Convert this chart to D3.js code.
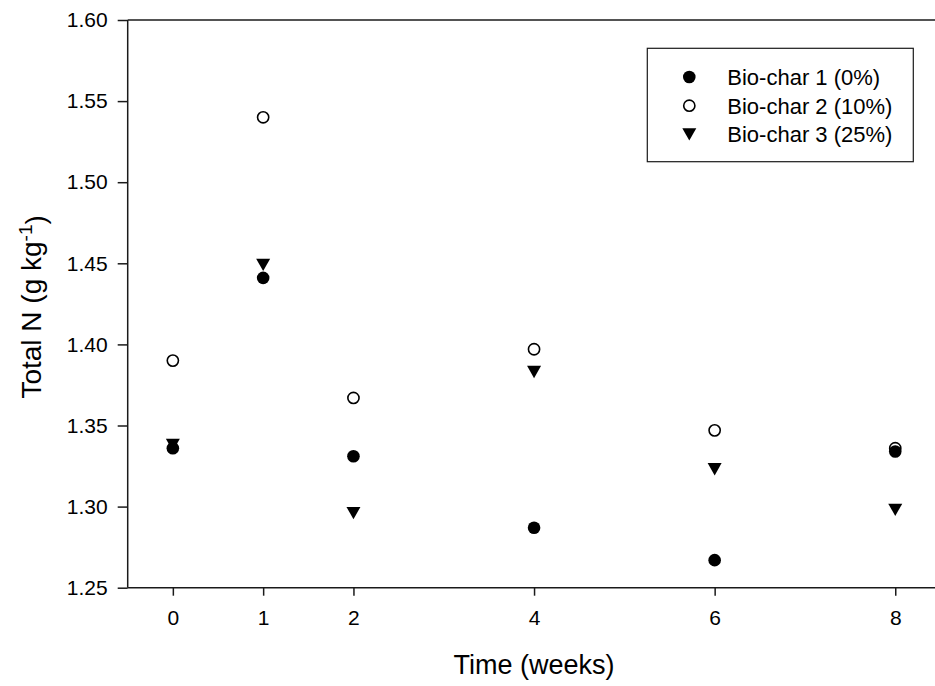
<!DOCTYPE html>
<html>
<head>
<meta charset="utf-8">
<script src="https://cdn.jsdelivr.net/npm/d3@7"></script>
<style>
  html, body { margin: 0; padding: 0; background: #fff; }
  svg { display: block; font-family: "Liberation Sans", Arial, sans-serif; }
</style>
</head>
<body>
<svg id="chart" width="935" height="686"></svg>
<script>
// Sampling times (weeks) and total nitrogen per treatment
const weeks = [0, 1, 2, 4, 6, 8];
const biochar1 = [1.336, 1.441, 1.331, 1.287, 1.267, 1.334];
const biochar2 = [1.390, 1.540, 1.367, 1.397, 1.347, 1.336];
const biochar3 = [1.338, 1.449, 1.296, 1.383, 1.323, 1.298];
const seriesNames = ["Bio-char 1 (0%)", "Bio-char 2 (10%)", "Bio-char 3 (25%)"];
const xTicks = [0, 1, 2, 4, 6, 8];
const yTicks = [1.25, 1.30, 1.35, 1.40, 1.45, 1.50, 1.55, 1.60];

const svg = d3.select("#chart");
const plotL = 127.7, plotT = 20, plotB = 587.7, plotR = 940.4;

const x = d3.scaleLinear().domain([-0.5, 8.5]).range([plotL, plotR]);
const y = d3.scaleLinear().domain([1.25, 1.60]).range([plotB, plotT]);

const ink = "#1a1a1a";

// Frame: top edge
svg.append("line")
  .attr("x1", plotL).attr("x2", plotR)
  .attr("y1", plotT).attr("y2", plotT)
  .attr("stroke", ink).attr("stroke-width", 1.5);

// Y axis
const yAxis = svg.append("g")
  .attr("transform", `translate(${plotL},0)`)
  .call(d3.axisLeft(y).tickValues(yTicks).tickFormat(d3.format(".2f")).tickSize(10).tickPadding(10));
// X axis
const xAxis = svg.append("g")
  .attr("transform", `translate(0,${plotB})`)
  .call(d3.axisBottom(x).tickValues(xTicks).tickFormat(d3.format("d")).tickSize(8).tickPadding(14));

[yAxis, xAxis].forEach(g => {
  g.select(".domain").attr("stroke", ink).attr("stroke-width", 1.5);
  g.selectAll(".tick line").attr("stroke", ink).attr("stroke-width", 1.5);
  g.selectAll(".tick text")
    .attr("fill", "#000")
    .style("font-size", "21px")
    .style("font-family", "'Liberation Sans', Arial, sans-serif");
});
// Axis lines without outer ticks
yAxis.select(".domain").attr("d", `M0,${plotT}V${plotB}`);
xAxis.select(".domain").attr("d", `M${plotL},0H${plotR}`);

// Symbol generators
const circleFilled = g => g.append("circle").attr("r", 6.3).attr("fill", "#000");
const circleOpen = g => g.append("circle").attr("r", 5.6).attr("fill", "#fff").attr("stroke", "#000").attr("stroke-width", 1.6);
const triangleDown = g => g.append("path").attr("d", "M-7,-6.2L7,-6.2L0,6.2Z").attr("fill", "#000");
const drawers = [circleFilled, circleOpen, triangleDown];
const allSeries = [biochar1, biochar2, biochar3];

// Points (series 3 drawn first so overlapping circles sit on top)
const order = [2, 1, 0];
order.forEach(si => {
  const vals = allSeries[si];
  weeks.forEach((w, i) => {
    const g = svg.append("g").attr("transform", `translate(${x(w)},${y(vals[i])})`);
    drawers[si](g);
  });
});

// Legend
const legend = svg.append("g");
legend.append("rect")
  .attr("x", 647.3).attr("y", 48.3)
  .attr("width", 266).attr("height", 113.4)
  .attr("fill", "#fff").attr("stroke", ink).attr("stroke-width", 1.2);
seriesNames.forEach((name, i) => {
  const ry = 77 + i * 28.7;
  drawers[i](legend.append("g").attr("transform", `translate(689.3,${ry})`));
  legend.append("text")
    .attr("x", 727.3).attr("y", ry)
    .attr("dy", "0.36em")
    .style("font-size", "22px")
    .text(name);
});

// Axis titles
svg.append("text")
  .attr("x", (plotL + plotR) / 2).attr("y", 674)
  .attr("text-anchor", "middle")
  .style("font-size", "27px")
  .text("Time (weeks)");

const yt = svg.append("text")
  .attr("transform", `translate(41,${(plotT + plotB) / 2 + 3}) rotate(-90)`)
  .attr("text-anchor", "middle")
  .style("font-size", "28px");
yt.append("tspan").text("Total N (g kg");
yt.append("tspan").attr("dy", "-0.45em").style("font-size", "19px").text("-1");
yt.append("tspan").attr("dy", "0.45em").text(")");
</script>
</body>
</html>
